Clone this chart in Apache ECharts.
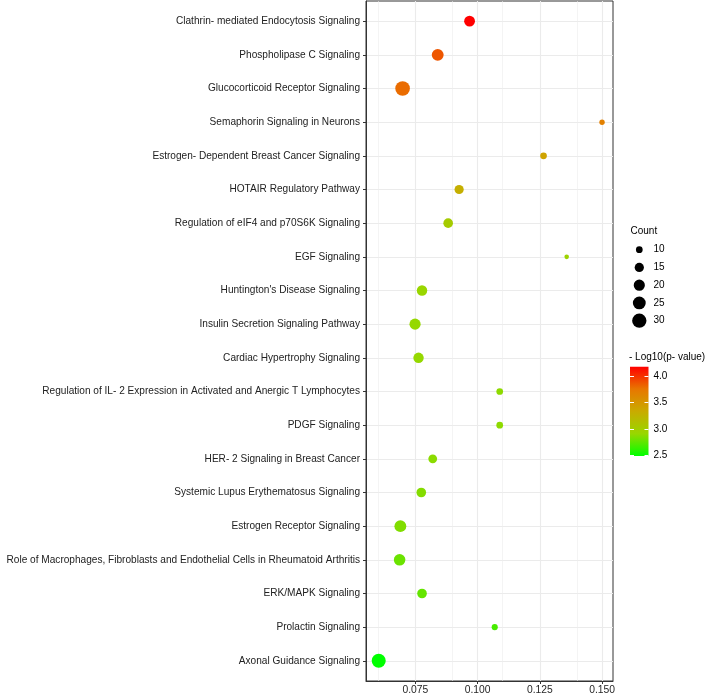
<!DOCTYPE html>
<html>
<head>
<meta charset="utf-8">
<script src="https://cdn.jsdelivr.net/npm/echarts@6/dist/echarts.min.js"></script>
<style>
html,body{margin:0;padding:0;background:#fff;}
#chart{width:708px;height:695px;}
</style>
</head>
<body>
<div id="chart"></div>
<script>
// ---- data (top to bottom) ----
var pathways = [
  "Clathrin- mediated Endocytosis Signaling",
  "Phospholipase C Signaling",
  "Glucocorticoid Receptor Signaling",
  "Semaphorin Signaling in Neurons",
  "Estrogen- Dependent Breast Cancer Signaling",
  "HOTAIR Regulatory Pathway",
  "Regulation of eIF4 and p70S6K Signaling",
  "EGF Signaling",
  "Huntington's Disease Signaling",
  "Insulin Secretion Signaling Pathway",
  "Cardiac Hypertrophy Signaling",
  "Regulation of IL- 2 Expression in Activated and Anergic T Lymphocytes",
  "PDGF Signaling",
  "HER- 2 Signaling in Breast Cancer",
  "Systemic Lupus Erythematosus Signaling",
  "Estrogen Receptor Signaling",
  "Role of Macrophages, Fibroblasts and Endothelial Cells in Rheumatoid Arthritis",
  "ERK/MAPK Signaling",
  "Prolactin Signaling",
  "Axonal Guidance Signaling"
];
var geneRatio = [0.0968, 0.0840, 0.0699, 0.1500, 0.1265, 0.0926, 0.0882, 0.1358, 0.0777, 0.0749,
                 0.0763, 0.1089, 0.1089, 0.0820, 0.0774, 0.0690, 0.0687, 0.0777, 0.1069, 0.0603];
var logP = [4.19, 3.88, 3.80, 3.68, 3.40, 3.30, 3.02, 2.95, 2.92, 2.90,
            2.90, 2.88, 2.88, 2.87, 2.85, 2.84, 2.78, 2.76, 2.68, 2.48];
var counts = [19, 22, 31, 8, 10, 15, 16, 7, 18, 20,
              18, 10, 10, 14, 16, 22, 21, 16, 9, 29];
var xTicks = [0.075, 0.100, 0.125, 0.150];
var xMinorTicks = [0.0625, 0.0875, 0.1125, 0.1375];
var sizeLegendValues = [10, 15, 20, 25, 30];
var colorTicks = [2.5, 3.0, 3.5, 4.0];

var colorMin = 2.48, colorMax = 4.19;
var colorStops = ['#00FF00', '#98D700', '#C9AB00', '#E87600', '#FF0000'];
var FONT = "'Liberation Sans', Arial, Helvetica, sans-serif";

function sizeOf(c) { return Math.sqrt(45 + (c - 10) * 8); }

var rowIdx = pathways.map(function (p, i) { return i; });
var points = pathways.map(function (p, i) {
  return [geneRatio[i], i, logP[i], counts[i]];
});

var chart = echarts.init(document.getElementById('chart'), null, { renderer: 'canvas' });

// legend graphics
var graphics = [];
graphics.push({ type: 'text', x: 630.5, y: 231.5, style: { text: 'Count', font: '10px ' + FONT, fill: '#000', textVerticalAlign: 'middle' } });
var legY0 = 249.7, legStep = 17.75;
sizeLegendValues.forEach(function (v, k) {
  var cy = legY0 + k * legStep;
  var r = sizeOf(v) / 2;
  graphics.push({ type: 'circle', shape: { cx: 639.3, cy: cy, r: r }, style: { fill: '#000' } });
  graphics.push({ type: 'text', x: 653.5, y: cy, style: { text: String(v), font: '10px ' + FONT, fill: '#000', textVerticalAlign: 'middle' } });
});
graphics.push({ type: 'text', x: 629, y: 357.5, style: { text: '- Log10(p- value)', font: '10px ' + FONT, fill: '#000', textVerticalAlign: 'middle' } });
var barTop = 366.7, barH = 89.3;
graphics.push({
  type: 'rect', z: 0,
  shape: { x: 630, y: barTop, width: 18.5, height: barH },
  style: {
    fill: new echarts.graphic.LinearGradient(0, 0, 0, 1, colorStops.slice().reverse().map(function (c, k) {
      return { offset: k / (colorStops.length - 1), color: c };
    }))
  }
});

var option = {
  animation: false,
  backgroundColor: '#fff',
  textStyle: { fontFamily: FONT },
  grid: [
    { left: 366, right: 95, top: 1, bottom: 14, show: true, borderColor: '#333', borderWidth: 1,
      backgroundColor: 'transparent', containLabel: false, outerBoundsMode: 'none' },
    { left: 630, top: barTop, width: 18.5, height: barH, show: false, containLabel: false, outerBoundsMode: 'none' }
  ],
  xAxis: [
    {
      type: 'value', gridIndex: 0, min: 0.0552, max: 0.1544, position: 'bottom',
      axisLine: { show: true, onZero: false, lineStyle: { color: '#333', width: 1 } },
      axisTick: { show: true, customValues: xTicks, length: 3, lineStyle: { color: '#333' } },
      axisLabel: { show: true, customValues: xTicks, margin: 4, fontSize: 10.3, color: '#262626', fontFamily: FONT,
                   formatter: function (v) { return v.toFixed(3); } },
      splitLine: { show: true, lineStyle: { color: '#EBEBEB', width: 1.1 } }
    },
    { type: 'category', gridIndex: 1, data: ['a'], show: false }
  ],
  yAxis: [
    {
      type: 'value', gridIndex: 0, min: -0.6, max: 19.6, inverse: true, position: 'left',
      axisLine: { show: true, onZero: false, lineStyle: { color: '#333', width: 1 } },
      axisTick: { show: true, customValues: rowIdx, length: 3, lineStyle: { color: '#333' } },
      axisLabel: { show: true, customValues: rowIdx, margin: 6, fontSize: 10.1, color: '#222', fontFamily: FONT,
                   formatter: function (v) { return pathways[Math.round(v)]; } },
      splitLine: { show: true, lineStyle: { color: '#EBEBEB', width: 1.1 } }
    },
    {
      type: 'value', gridIndex: 1, min: colorMin, max: colorMax, position: 'right', z: 10,
      axisLine: { show: false, onZero: false },
      axisTick: { show: true, inside: true, customValues: colorTicks, length: 4, lineStyle: { color: '#fff', width: 1 } },
      axisLabel: { show: true, customValues: colorTicks, margin: 5, fontSize: 10, color: '#000', fontFamily: FONT,
                   formatter: function (v) { return v.toFixed(1); } },
      splitLine: { show: false }
    },
    {
      type: 'value', gridIndex: 1, min: colorMin, max: colorMax, position: 'left', z: 10,
      axisLine: { show: false, onZero: false },
      axisTick: { show: true, inside: true, customValues: colorTicks, length: 4, lineStyle: { color: '#fff', width: 1 } },
      axisLabel: { show: false },
      splitLine: { show: false }
    }
  ],
  visualMap: {
    show: false, type: 'continuous', seriesIndex: 1, dimension: 2,
    min: colorMin, max: colorMax, inRange: { color: colorStops }
  },
  graphic: graphics,
  series: [
    {
      type: 'scatter', xAxisIndex: 0, yAxisIndex: 0, data: [], z: 1, silent: true,
      markLine: {
        silent: true, z: 1, symbol: ['none', 'none'], label: { show: false }, animation: false,
        data: xMinorTicks.map(function (v) { return { xAxis: v, lineStyle: { color: '#EDEDED', width: 0.6, type: 'solid' } }; })
      }
    },
    {
      type: 'scatter', xAxisIndex: 0, yAxisIndex: 0, z: 5,
      data: points,
      symbolSize: function (val) { return sizeOf(val[3]); },
      itemStyle: { opacity: 1 }
    }
  ]
};
chart.setOption(option);
</script>
</body>
</html>
